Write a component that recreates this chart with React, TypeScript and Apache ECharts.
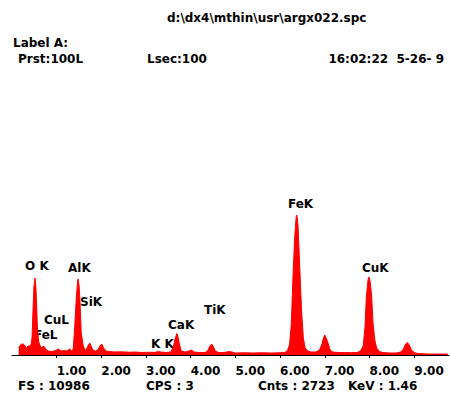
import React, { useEffect, useRef } from "react";
import * as echarts from "echarts";

// EDS spectrum: [energy keV, counts]
const spectrum: [number, number][] = [
  [0.15, 320], [0.18, 360], [0.21, 440], [0.25, 440], [0.28, 400], [0.32, 280],
  [0.36, 360], [0.4, 360], [0.43, 440], [0.45, 720], [0.47, 1800], [0.49, 2720],
  [0.515, 3080], [0.535, 2720], [0.55, 2080], [0.57, 1000], [0.6, 520], [0.64, 320],
  [0.67, 280], [0.7, 360], [0.73, 320], [0.77, 200], [0.82, 160], [0.88, 140],
  [0.94, 160], [1.0, 200], [1.04, 240], [1.1, 160], [1.17, 180], [1.23, 160],
  [1.29, 240], [1.34, 160], [1.37, 240], [1.4, 1000], [1.44, 2320], [1.47, 2960],
  [1.48, 3040], [1.5, 2800], [1.52, 2200], [1.55, 880], [1.59, 400], [1.63, 200],
  [1.67, 240], [1.71, 400], [1.74, 480], [1.77, 360], [1.81, 200], [1.87, 160],
  [1.92, 200], [1.97, 360], [2.01, 440], [2.05, 280], [2.1, 160], [2.18, 140],
  [2.3, 120], [2.45, 130], [2.6, 110], [2.75, 120], [2.9, 100], [3.05, 110],
  [3.2, 100], [3.27, 140], [3.33, 120], [3.45, 100], [3.55, 120], [3.61, 320],
  [3.65, 640], [3.69, 860], [3.72, 680], [3.75, 400], [3.79, 160], [3.88, 120],
  [3.96, 160], [4.02, 200], [4.07, 120], [4.2, 100], [4.33, 100], [4.39, 200],
  [4.43, 360], [4.47, 440], [4.51, 320], [4.55, 160], [4.62, 100], [4.75, 100],
  [4.85, 140], [4.92, 120], [5.0, 80], [5.2, 90], [5.4, 80], [5.6, 90],
  [5.8, 80], [6.0, 90], [6.1, 100], [6.16, 160], [6.21, 400], [6.25, 1200],
  [6.29, 3200], [6.33, 4800], [6.36, 5520], [6.375, 5600], [6.4, 5200], [6.44, 3520],
  [6.48, 1800], [6.52, 680], [6.56, 280], [6.62, 160], [6.7, 120], [6.8, 120],
  [6.88, 200], [6.93, 400], [6.97, 680], [7.0, 800], [7.04, 640], [7.08, 440],
  [7.12, 200], [7.18, 120], [7.3, 100], [7.45, 100], [7.6, 90], [7.72, 100],
  [7.8, 160], [7.86, 360], [7.9, 1120], [7.93, 2320], [7.97, 3040], [7.99, 3120],
  [8.02, 2880], [8.05, 2320], [8.08, 1280], [8.12, 600], [8.16, 280], [8.22, 140],
  [8.3, 100], [8.45, 80], [8.6, 80], [8.7, 120], [8.76, 240], [8.81, 440],
  [8.85, 500], [8.89, 400], [8.94, 200], [9.0, 100], [9.08, 60], [9.3, 40],
  [9.5, 40], [9.75, 40],
];

const tickValues = [1, 2, 3, 4, 5, 6, 7, 8, 9];

// Peak labels: text and where they sit on the page
const peakLabels: { text: string; x: number; y: number }[] = [
  { text: "O K", x: 25, y: 266 },
  { text: "AlK", x: 68, y: 268 },
  { text: "SiK", x: 80, y: 302 },
  { text: "CuL", x: 44, y: 320 },
  { text: "FeL", x: 34, y: 335 },
  { text: "K K", x: 151, y: 344 },
  { text: "CaK", x: 168, y: 325 },
  { text: "TiK", x: 204, y: 310 },
  { text: "FeK", x: 288, y: 204 },
  { text: "CuK", x: 362, y: 268 },
];

const headerTexts: { text: string; x: number; y: number; align?: string }[] = [
  { text: "d:\\dx4\\mthin\\usr\\argx022.spc", x: 167, y: 18 },
  { text: "Label A:", x: 13, y: 43 },
  { text: "Prst:100L", x: 18, y: 59 },
  { text: "Lsec:100", x: 147, y: 59 },
  { text: "16:02:22  5-26- 9", x: 444, y: 59, align: "right" },
];

const footerTexts: { text: string; x: number; y: number }[] = [
  { text: "FS : 10986", x: 18, y: 386 },
  { text: "CPS : 3", x: 146, y: 386 },
  { text: "Cnts : 2723", x: 258, y: 386 },
  { text: "KeV : 1.46", x: 348, y: 386 },
];

const FONT = "DejaVu Sans";

function textEl(t: { text: string; x: number; y: number; align?: string }) {
  return {
    type: "text",
    x: t.x,
    y: t.y,
    silent: true,
    style: {
      text: t.text,
      fill: "#000",
      font: `bold 12px "${FONT}"`,
      textAlign: t.align || "left",
      textVerticalAlign: "middle",
    },
  };
}

export default function App() {
  const ref = useRef<HTMLDivElement>(null);
  useEffect(() => {
    if (!ref.current) return;
    const chart = echarts.init(ref.current, null, { renderer: "svg" });
    chart.setOption({
      animation: false,
      backgroundColor: "#fff",
      grid: { left: 12, right: 2, top: 80, bottom: 37, containLabel: false },
      xAxis: {
        type: "value",
        min: 0,
        max: 9.78,
        interval: 1,
        splitLine: { show: false },
        axisLine: { show: true, lineStyle: { color: "#000", width: 1 } },
        axisTick: {
          show: true,
          length: 3,
          customValues: tickValues,
          lineStyle: { color: "#000" },
        },
        axisLabel: {
          customValues: tickValues,
          align: "left",
          margin: 8,
          color: "#000",
          fontFamily: FONT,
          fontWeight: "bold",
          fontSize: 12,
          formatter: (v: number) => v.toFixed(2),
        },
      },
      yAxis: {
        type: "value",
        min: -80,
        max: 11000,
        show: false,
        splitLine: { show: false },
      },
      series: [
        {
          type: "line",
          data: spectrum,
          symbol: "none",
          lineStyle: { color: "#ff0000", width: 1 },
          areaStyle: { color: "#ff0000", opacity: 1 },
          silent: true,
        },
      ],
      graphic: [
        ...headerTexts.map(textEl),
        ...peakLabels.map(textEl),
        ...footerTexts.map(textEl),
      ],
    });
    return () => chart.dispose();
  }, []);
  return (
    <div
      ref={ref}
      style={{ position: "fixed", left: 0, top: 0, width: 451, height: 394, background: "#fff" }}
    />
  );
}
